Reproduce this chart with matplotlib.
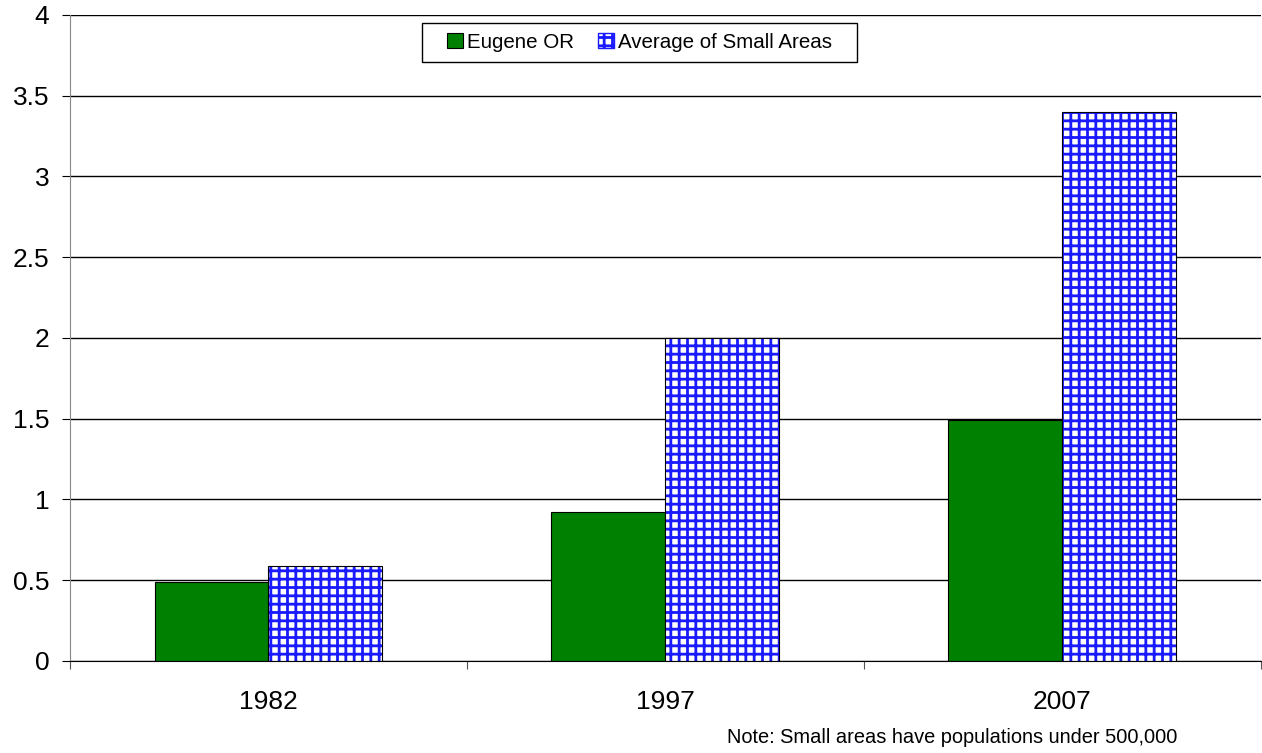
import matplotlib
matplotlib.use("Agg")
import matplotlib.pyplot as plt
import numpy as np
from matplotlib.patches import Patch, Rectangle

categories = ["1982", "1997", "2007"]
eugene = [0.49, 0.92, 1.49]
small_areas = [0.59, 2.00, 3.40]
series_names = ["Eugene OR", "Average of Small Areas"]
yticks = [0, 0.5, 1, 1.5, 2, 2.5, 3, 3.5, 4]
ytick_labels = ["0", "0.5", "1", "1.5", "2", "2.5", "3", "3.5", "4"]
note = "Note: Small areas have populations under 500,000"

plt.rcParams['font.family'] = ['Liberation Sans', 'DejaVu Sans']
plt.rcParams['hatch.linewidth'] = 2.0

W, H = 1262, 753
fig = plt.figure(figsize=(W / 100, H / 100), dpi=100)
ax = fig.add_axes([0.0555, 0.1222, 0.9435, 0.858])

x = np.arange(len(categories))
w = 0.287

for yv in yticks:
    ax.axhline(yv, color='black', lw=1.0, zorder=0)

ax.bar(x - w / 2, eugene, width=w, color='#008000', edgecolor='black', lw=0.8, zorder=2)
ax.bar(x + w / 2, small_areas, width=w, color='white', edgecolor='#1a1aff', hatch='++', lw=0, zorder=2)
ax.bar(x + w / 2, small_areas, width=w, fill=False, edgecolor='black', lw=0.8, zorder=3)

ax.set_xlim(-0.5, 2.5)
ax.set_ylim(0, 4)
ax.set_yticks(yticks)
ax.set_yticklabels(ytick_labels, fontsize=19)
ax.set_xticks([-0.5, 0.5, 1.5, 2.5])
ax.set_xticklabels([])
ax.set_xticks(x, minor=True)
ax.set_xticklabels(categories, minor=True, fontsize=19)
ax.tick_params(axis='x', which='minor', length=0, pad=21)
ax.tick_params(axis='x', which='major', length=6, direction='out', color='#555555')
ax.tick_params(axis='y', length=6, direction='out', color='black', pad=9)

for s in ['top', 'right']:
    ax.spines[s].set_visible(False)
ax.spines['left'].set_color('#888888')
ax.spines['bottom'].set_color('black')

handles = [Patch(facecolor='#008000', edgecolor='black', lw=0.8),
           Patch(facecolor='white', edgecolor='#1a1aff', hatch='++', lw=1.0)]
leg = ax.legend(handles, series_names, ncol=2, loc='center',
                bbox_to_anchor=((422 + 857) / 2 / W, 1 - 42.5 / H),
                bbox_transform=fig.transFigure,
                fontsize=14.8, frameon=False,
                handlelength=0.75, handleheight=0.75, handletextpad=0.2,
                columnspacing=1.2, borderpad=0.3)
fig.patches.append(Rectangle((422 / W, 1 - 62 / H), 435 / W, 39 / H,
                             transform=fig.transFigure, fill=False,
                             edgecolor='black', lw=1.0, zorder=5))

fig.text(0.9327, 0.0205, note, ha='right', va='center', fontsize=14.4)

fig.savefig("out.png", dpi=100)
